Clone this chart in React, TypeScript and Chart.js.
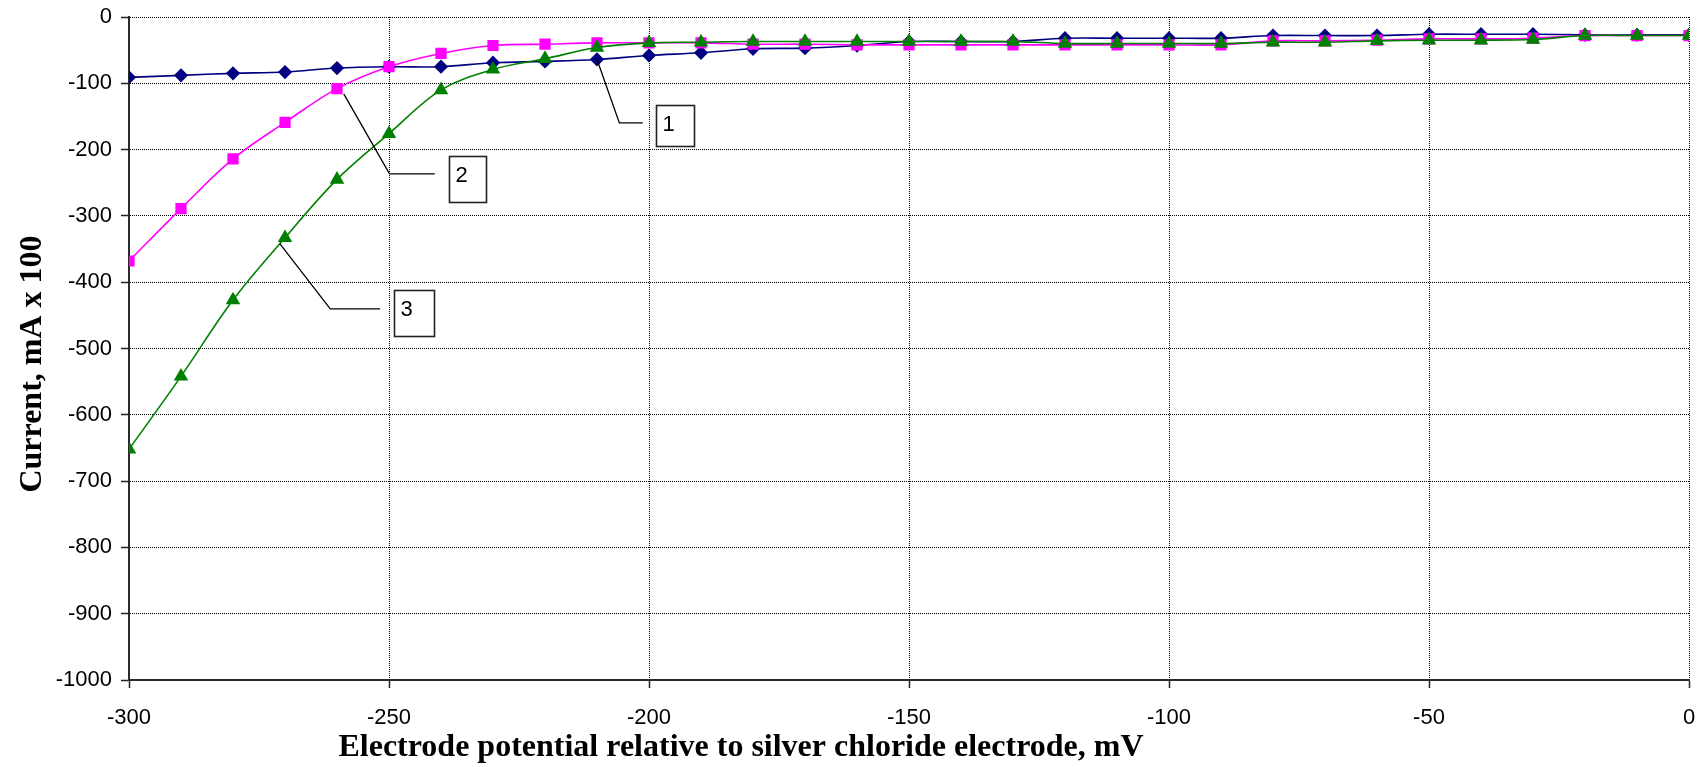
import React, { useEffect, useRef } from "react";
import { Chart, registerables } from "chart.js";

Chart.register(...registerables);

// ---- data ----
const potentials = [
  -300, -290, -280, -270, -260, -250, -240, -230, -220, -210, -200, -190, -180, -170, -160, -150,
  -140, -130, -120, -110, -100, -90, -80, -70, -60, -50, -40, -30, -20, -10, 0,
];
const curve1 = [
  -91, -88, -85, -83, -77, -75, -75, -69, -67, -64, -58, -54, -48, -47, -43, -37,
  -37, -37, -32, -32, -32, -32, -28, -28, -28, -26, -26, -26, -27, -27, -27,
];
const curve2 = [
  -368, -289, -214, -159, -108, -75, -55, -43, -41, -39, -39, -39, -41, -41, -42, -42,
  -42, -42, -42, -42, -42, -42, -36, -36, -35, -33, -33, -32, -28, -28, -28,
];
const curve3 = [
  -652, -542, -427, -333, -245, -176, -110, -79, -63, -46, -39, -38, -37, -37, -37, -37,
  -37, -37, -40, -40, -40, -40, -38, -38, -36, -35, -35, -34, -28, -28, -28,
];
const curveNames = ["1", "2", "3"];
const xTitle = "Electrode potential relative to silver chloride electrode, mV";
const yTitle = "Current, mA x 100";
const xRange = [-300, 0];
const yRange = [-1000, 0];
const xStep = 50;
const yStep = 100;

// callouts (data coordinates): leader start, elbow, end, box [x1, y1, x2, y2]
const callouts = [
  { text: curveNames[0], from: [-210, -64], elbow: [-205.7, -159.8], end: [-201.2, -159.8], box: [-198.6, -133.3, -191.3, -195.1] },
  { text: curveNames[1], from: [-258.7, -116], elbow: [-249.9, -236.7], end: [-241.2, -236.7], box: [-238.5, -210.2, -231.3, -279.5] },
  { text: curveNames[2], from: [-271, -341.8], elbow: [-261.3, -440.2], end: [-251.7, -440.2], box: [-249.1, -411.1, -241.3, -481.5] },
];

const TICK_FONT = '"Liberation Sans", Arial, sans-serif';
const TITLE_FONT = '"Liberation Serif", "Times New Roman", serif';

const calloutPlugin = {
  id: "callouts",
  afterDatasetsDraw(chart: any) {
    const { ctx } = chart;
    const xs = chart.scales.x;
    const ys = chart.scales.y;
    ctx.save();
    for (const c of callouts) {
      ctx.beginPath();
      ctx.strokeStyle = "#000";
      ctx.lineWidth = 1.3;
      ctx.moveTo(xs.getPixelForValue(c.from[0]), ys.getPixelForValue(c.from[1]));
      ctx.lineTo(xs.getPixelForValue(c.elbow[0]), ys.getPixelForValue(c.elbow[1]));
      ctx.lineTo(xs.getPixelForValue(c.end[0]), ys.getPixelForValue(c.end[1]));
      ctx.stroke();
      const bx1 = Math.round(xs.getPixelForValue(c.box[0])) + 0.5;
      const by1 = Math.round(ys.getPixelForValue(c.box[1])) + 0.5;
      const bx2 = Math.round(xs.getPixelForValue(c.box[2])) + 0.5;
      const by2 = Math.round(ys.getPixelForValue(c.box[3])) + 0.5;
      ctx.fillStyle = "#fff";
      ctx.fillRect(bx1, by1, bx2 - bx1, by2 - by1);
      ctx.lineWidth = 1.6;
      ctx.strokeStyle = "#222";
      ctx.strokeRect(bx1, by1, bx2 - bx1, by2 - by1);
      ctx.fillStyle = "#000";
      ctx.font = `22px ${TICK_FONT}`;
      ctx.textAlign = "left";
      ctx.textBaseline = "alphabetic";
      ctx.fillText(c.text, bx1 + 6, by1 + 25);
    }
    ctx.restore();
  },
  afterDraw(chart: any) {
    const { ctx } = chart;
    ctx.save();
    ctx.fillStyle = "#000";
    ctx.font = `bold 32px ${TITLE_FONT}`;
    ctx.textAlign = "center";
    ctx.textBaseline = "alphabetic";
    ctx.fillText(xTitle, 741, 756);
    ctx.translate(41, 364);
    ctx.rotate(-Math.PI / 2);
    ctx.fillText(yTitle, 0, 0);
    ctx.restore();
  },
};

export default function App() {
  const ref = useRef<HTMLCanvasElement | null>(null);
  useEffect(() => {
    if (!ref.current) return;
    const mk = (vals: number[]) => potentials.map((p, i) => ({ x: p, y: vals[i] }));
    const tickFmt = (v: any) => String(v);
    const chart = new Chart(ref.current, {
      type: "line",
      data: {
        datasets: [
          {
            label: curveNames[0],
            data: mk(curve1),
            borderColor: "#000080",
            backgroundColor: "#000080",
            pointBackgroundColor: "#000080",
            pointBorderColor: "#000080",
            pointStyle: "rectRot",
            pointRadius: 6,
            borderWidth: 1.6,
            tension: 0.35,
            order: 2,
          },
          {
            label: curveNames[1],
            data: mk(curve2),
            borderColor: "#ff00ff",
            backgroundColor: "#ff00ff",
            pointBackgroundColor: "#ff00ff",
            pointBorderColor: "#ff00ff",
            pointStyle: "rect",
            pointRadius: 6.8,
            borderWidth: 1.6,
            tension: 0.35,
            order: 1,
          },
          {
            label: curveNames[2],
            data: mk(curve3),
            borderColor: "#008000",
            backgroundColor: "#008000",
            pointBackgroundColor: "#008000",
            pointBorderColor: "#008000",
            pointStyle: "triangle",
            pointRadius: 6.8,
            borderWidth: 1.6,
            tension: 0.35,
            order: 0,
          },
        ],
      },
      options: {
        animation: false,
        responsive: false,
        maintainAspectRatio: false,
        layout: { padding: { left: 0, top: 17, right: 11, bottom: 0 } },
        plugins: { legend: { display: false }, tooltip: { enabled: false }, title: { display: false } },
        scales: {
          x: {
            type: "linear",
            min: xRange[0],
            max: xRange[1],
            afterFit: (s: any) => {
              s.height = 87;
              s.paddingLeft = 0;
              s.paddingRight = 0;
              s.paddingTop = 0;
              s.paddingBottom = 0;
            },
            ticks: { stepSize: xStep, color: "#000", font: { family: TICK_FONT, size: 22 }, padding: 17, maxRotation: 0, callback: tickFmt },
            grid: { color: "#000", lineWidth: 1, tickLength: 8, tickColor: "#222", tickWidth: 1.5 },
            border: { display: true, color: "#2a2a2a", width: 2, dash: [1, 1] },
            title: { display: false },
          },
          y: {
            type: "linear",
            min: yRange[0],
            max: yRange[1],
            afterFit: (s: any) => {
              s.width = 129;
              s.paddingLeft = 0;
              s.paddingRight = 0;
              s.paddingTop = 0;
              s.paddingBottom = 0;
            },
            ticks: { stepSize: yStep, color: "#000", font: { family: TICK_FONT, size: 22 }, padding: 9, callback: tickFmt },
            grid: { color: "#000", lineWidth: 1, tickLength: 8, tickColor: "#222", tickWidth: 1.5 },
            border: { display: true, color: "#2a2a2a", width: 2, dash: [1, 1] },
            title: { display: false },
          },
        },
      },
      plugins: [calloutPlugin],
    } as any);
    return () => chart.destroy();
  }, []);
  return (
    <div style={{ position: "absolute", left: 0, top: 0, width: 1700, height: 767, background: "#fff" }}>
      <canvas ref={ref} width={1700} height={767} />
    </div>
  );
}
